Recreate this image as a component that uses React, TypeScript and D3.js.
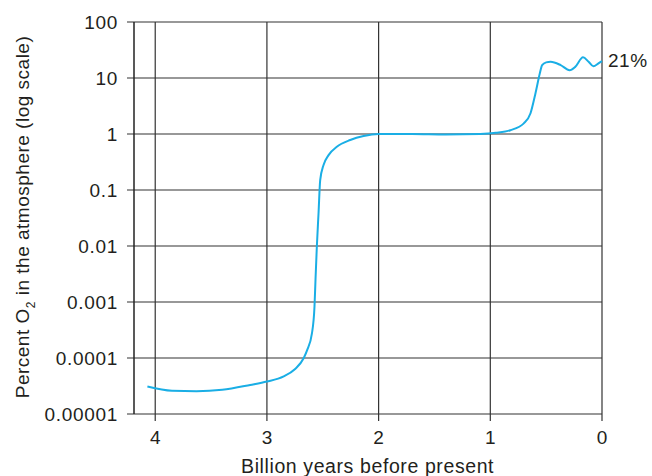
import React, { useEffect, useRef } from "react";
import * as d3 from "d3";

// Age in billions of years before present, and O2 level in percent
const ageGyr = [
  4.07, 3.85, 3.63, 3.4, 3.15, 3.0, 2.85, 2.75, 2.67, 2.64, 2.597, 2.574, 2.565,
  2.553, 2.538, 2.523, 2.493, 2.448, 2.374, 2.254, 2.135, 2.0, 1.7, 1.4, 1.09,
  0.95, 0.82, 0.7, 0.64, 0.595, 0.557, 0.536, 0.5, 0.46, 0.37, 0.29, 0.24,
  0.17, 0.12, 0.077, 0.032, 0.0,
];
const o2Percent = [
  3.1e-5, 2.6e-5, 2.55e-5, 2.7e-5, 3.3e-5, 3.8e-5, 4.7e-5, 6.3e-5, 1.0e-4,
  1.38e-4, 2.75e-4, 8.3e-4, 0.0025, 0.0098, 0.038, 0.15, 0.28, 0.42, 0.59,
  0.78, 0.92, 1.0, 1.0, 0.98, 1.0, 1.05, 1.17, 1.55, 2.35, 5.4, 12.0, 17.0,
  19.0, 19.5, 17.0, 13.8, 15.8, 23.4, 19.5, 16.2, 18.2, 20.0,
];

const xTicks = [4, 3, 2, 1, 0];
const yTicks = [100, 10, 1, 0.1, 0.01, 0.001, 0.0001, 0.00001];
const yTickLabels = ["100", "10", "1", "0.1", "0.01", "0.001", "0.0001", "0.00001"];

const WIDTH = 652;
const HEIGHT = 476;
const FONT = "'Liberation Sans', Arial, sans-serif";
const FS = "19px";

export default function App() {
  const svgRef = useRef<SVGSVGElement>(null);

  useEffect(() => {
    const svg = d3.select(svgRef.current);
    svg.selectAll("*").remove();

    const margin = { top: 22, right: 50, bottom: 62, left: 134 };
    const w = WIDTH - margin.left - margin.right;
    const h = HEIGHT - margin.top - margin.bottom;

    const x = d3.scaleLinear().domain([4.19, 0]).range([0, w]);
    const y = d3.scaleLog().domain([0.00001, 100]).range([h, 0]);

    const g = svg
      .append("g")
      .attr("transform", `translate(${margin.left},${margin.top})`);

    // grid
    g.selectAll(".vgrid")
      .data(xTicks)
      .enter()
      .append("line")
      .attr("x1", (d) => x(d))
      .attr("x2", (d) => x(d))
      .attr("y1", 0)
      .attr("y2", h + 7)
      .attr("stroke", "#333")
      .attr("stroke-width", 1.2);

    g.selectAll(".hgrid")
      .data(yTicks)
      .enter()
      .append("line")
      .attr("x1", -7)
      .attr("x2", w)
      .attr("y1", (d) => y(d))
      .attr("y2", (d) => y(d))
      .attr("stroke", "#333")
      .attr("stroke-width", 1.2);

    // left axis line
    g.append("line")
      .attr("x1", 0)
      .attr("x2", 0)
      .attr("y1", 0)
      .attr("y2", h)
      .attr("stroke", "#222")
      .attr("stroke-width", 1.5);

    // tick labels
    g.selectAll(".ylab")
      .data(yTicks)
      .enter()
      .append("text")
      .attr("x", -16)
      .attr("y", (d) => y(d))
      .attr("dy", "0.35em")
      .attr("text-anchor", "end")
      .style("font-family", FONT)
      .style("font-size", FS)
      .style("letter-spacing", "0.7px")
      .attr("fill", "#231f20")
      .text((d, i) => yTickLabels[i]);

    g.selectAll(".xlab")
      .data(xTicks)
      .enter()
      .append("text")
      .attr("x", (d) => x(d))
      .attr("y", h + 30)
      .attr("text-anchor", "middle")
      .style("font-family", FONT)
      .style("font-size", FS)
      .attr("fill", "#231f20")
      .text((d) => d);

    // axis titles
    g.append("text")
      .attr("x", (x(4) + x(0)) / 2 - 11)
      .attr("y", h + 59)
      .attr("text-anchor", "middle")
      .style("font-family", FONT)
      .style("font-size", "19.5px")
      .style("letter-spacing", "0.6px")
      .attr("fill", "#231f20")
      .text("Billion years before present");

    const yt = g
      .append("text")
      .attr("transform", `translate(${-105.5},${h / 2 - 1}) rotate(-90)`)
      .attr("text-anchor", "middle")
      .style("font-family", FONT)
      .style("font-size", FS)
      .style("letter-spacing", "0.5px")
      .attr("fill", "#231f20");
    yt.append("tspan").text("Percent O");
    yt.append("tspan").attr("dy", 6).style("font-size", "12px").text("2");
    yt.append("tspan").attr("dy", -6).text(" in the atmosphere (log scale)");

    // O2 curve
    const pts = ageGyr.map((a, i) => [a, o2Percent[i]] as [number, number]);
    const line = d3
      .line<[number, number]>()
      .x((d) => x(d[0]))
      .y((d) => y(d[1]))
      .curve(d3.curveMonotoneX);

    g.append("path")
      .datum(pts)
      .attr("d", line)
      .attr("fill", "none")
      .attr("stroke", "#1aaee5")
      .attr("stroke-width", 2);

    g.append("text")
      .attr("x", w + 6)
      .attr("y", y(o2Percent[o2Percent.length - 1]))
      .attr("dy", "0.3em")
      .style("font-family", FONT)
      .style("font-size", FS)
      .style("letter-spacing", "0.5px")
      .attr("fill", "#231f20")
      .text("21%");
  }, []);

  return (
    <svg
      ref={svgRef}
      width={WIDTH}
      height={HEIGHT}
      style={{ position: "absolute", left: 0, top: 0, background: "#fff" }}
    />
  );
}
